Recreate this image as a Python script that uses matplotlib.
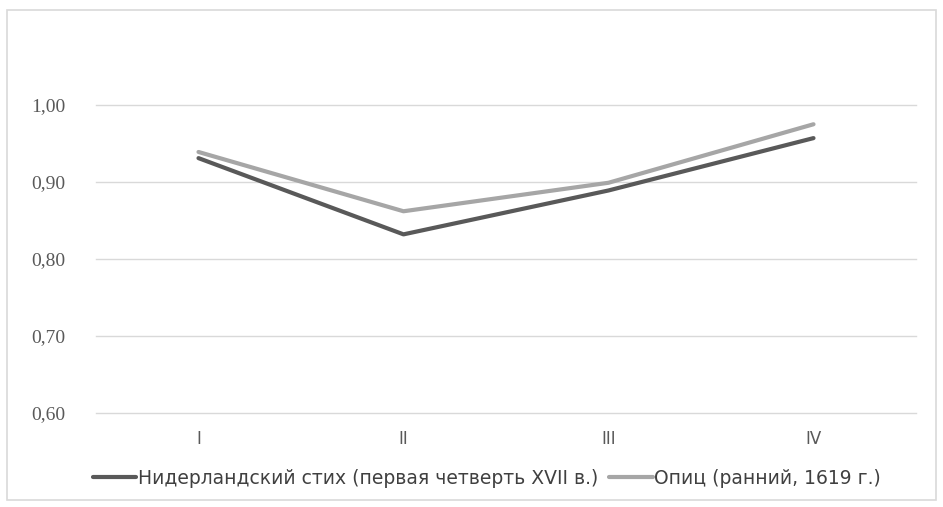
import matplotlib.pyplot as plt
from matplotlib.patches import Rectangle

# data
categories = ["I", "II", "III", "IV"]
dutch_verse = [0.931, 0.832, 0.889, 0.957]
opitz_early = [0.939, 0.862, 0.899, 0.975]
series_names = ["Нидерландский стих (первая четверть XVII в.)", "Опиц (ранний, 1619 г.)"]
y_ticks = [0.60, 0.70, 0.80, 0.90, 1.00]

narrow = ["Liberation Sans Narrow", "DejaVu Sans"]

fig = plt.figure(figsize=(9.43, 5.07), dpi=100)
ax = fig.add_axes([96 / 943, 94 / 507, 820 / 943, 308 / 507])

# outer chart frame
fig.patches.append(Rectangle((7 / 943, 7 / 507), 929 / 943, 490 / 507,
                             transform=fig.transFigure, fill=False,
                             edgecolor="#d9d9d9", linewidth=1.2))

x = range(len(categories))
ax.plot(x, dutch_verse, color="#595959", lw=3, solid_capstyle="round",
        label=series_names[0], zorder=3)
ax.plot(x, opitz_early, color="#a6a6a6", lw=3, solid_capstyle="round",
        label=series_names[1], zorder=3)

ax.set_xlim(-0.5, len(categories) - 0.5)
ax.set_ylim(0.6, 1.0)
ax.set_yticks(y_ticks)
ax.set_yticklabels([f"{v:.2f}".replace(".", ",") for v in y_ticks],
                   family=["Liberation Serif", "DejaVu Serif"], fontsize=14,
                   color="#595959")
ax.set_xticks(list(x))
ax.set_xticklabels(categories, family=narrow, fontsize=12, color="#595959")
ax.tick_params(axis="both", length=0)
ax.tick_params(axis="y", pad=22)
ax.tick_params(axis="x", pad=12)

ax.grid(axis="y", color="#d9d9d9", lw=1)
for gl in ax.get_ygridlines():
    gl.set_clip_on(False)
ax.set_axisbelow(True)
for s in ax.spines.values():
    s.set_visible(False)

leg = fig.legend(loc="center", bbox_to_anchor=(487 / 943, 1 - 478 / 507),
                 ncol=2, frameon=False, handlelength=2.3, handletextpad=0.1,
                 columnspacing=0.6, prop={"family": narrow, "size": 13.5})
for t in leg.get_texts():
    t.set_color("#404040")

fig.savefig("out.png", dpi=100)
